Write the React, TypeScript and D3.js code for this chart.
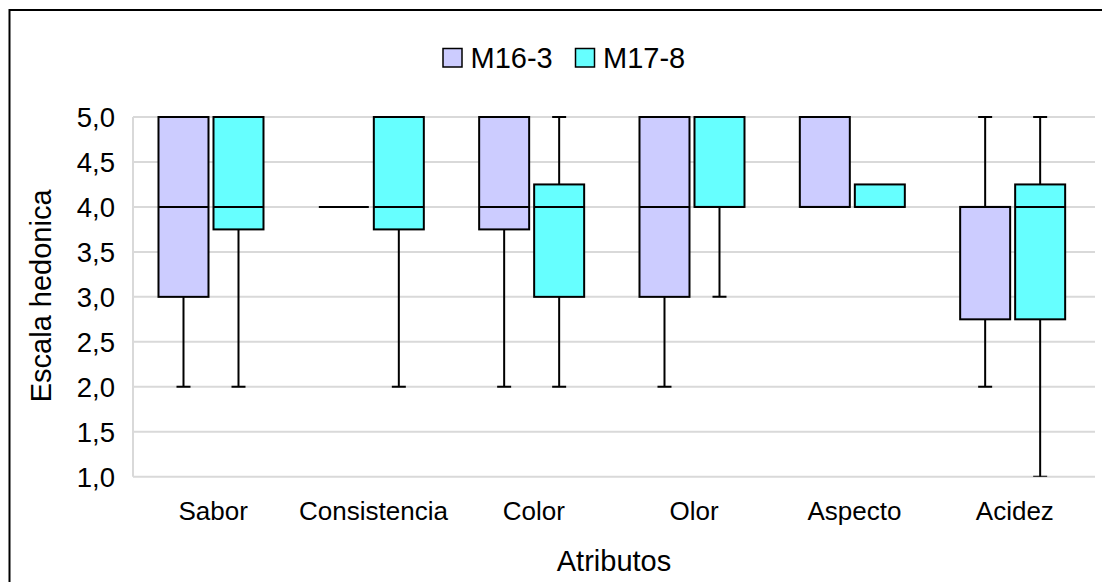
import React from "react";
import * as d3 from "d3";

const categories = ["Sabor", "Consistencia", "Color", "Olor", "Aspecto", "Acidez"];
const seriesNames = ["M16-3", "M17-8"];
const seriesColors = ["#ccccff", "#66ffff"];

// [min, q1, median, q3, max] per category
const m16_3 = [
  [2, 3, 4, 5, 5],
  [4, 4, 4, 4, 4],
  [2, 3.75, 4, 5, 5],
  [2, 3, 4, 5, 5],
  [4, 4, 4, 5, 5],
  [2, 2.75, 4, 4, 5],
];
const m17_8 = [
  [2, 3.75, 4, 5, 5],
  [2, 3.75, 4, 5, 5],
  [2, 3, 4, 4.25, 5],
  [3, 4, 4, 5, 5],
  [4, 4, 4, 4.25, 4.25],
  [1, 2.75, 4, 4.25, 5],
];
const yTicks = [1, 1.5, 2, 2.5, 3, 3.5, 4, 4.5, 5];

const W = 1102;
const H = 582;
const plot = { left: 133, right: 1095, top: 117, bottom: 476.7 };
const FONT = "'Liberation Sans', Arial, sans-serif";

export default function App() {
  const x = d3.scaleBand<string>().domain(categories).range([plot.left, plot.right]).padding(0);
  const y = d3.scaleLinear().domain([1, 5]).range([plot.bottom, plot.top]);
  const bw = x.bandwidth();
  const boxW = 50;
  const offsets = [bw * 0.159, bw * 0.159 + boxW + 5];
  const capW = 14;
  const fmt = (v: number) => v.toFixed(1).replace(".", ",");
  const allSeries = [m16_3, m17_8];

  return (
    <svg width={W} height={H} style={{ position: "absolute", left: 0, top: 0, background: "#fff" }} fontFamily={FONT}>
      <defs>
        <clipPath id="plotClip">
          <rect x={plot.left} y={plot.top - 2} width={plot.right - plot.left} height={plot.bottom - plot.top + 2} />
        </clipPath>
      </defs>
      <rect x={0} y={0} width={W} height={H} fill="#fff" />
      <rect x={9.5} y={10} width={W + 20} height={H + 20} fill="none" stroke="#000" strokeWidth={2} />

      {/* gridlines */}
      {yTicks.map((t) => (
        <line key={"g" + t} x1={plot.left} x2={plot.right} y1={y(t)} y2={y(t)} stroke="#d9d9d9" strokeWidth={2} />
      ))}
      <line x1={plot.left} x2={plot.left} y1={plot.top} y2={plot.bottom} stroke="#d9d9d9" strokeWidth={2} />

      {/* y tick labels */}
      {yTicks.map((t) => (
        <text key={"t" + t} x={115} y={y(t)} dy="0.36em" textAnchor="end" fontSize={27.5} fill="#000">
          {fmt(t)}
        </text>
      ))}

      {/* boxes */}
      <g clipPath="url(#plotClip)">
        {allSeries.map((series, si) =>
          series.map((d, ci) => {
            const x0 = (x(categories[ci]) as number) + offsets[si];
            const cx = x0 + boxW / 2;
            const [mn, q1, md, q3, mx] = d;
            return (
              <g key={si + "-" + ci}>
                {mx > q3 && (
                  <>
                    <line x1={cx} x2={cx} y1={y(q3)} y2={y(mx)} stroke="#000" strokeWidth={2} />
                    <line x1={cx - capW / 2} x2={cx + capW / 2} y1={y(mx)} y2={y(mx)} stroke="#000" strokeWidth={2} />
                  </>
                )}
                {mn < q1 && (
                  <>
                    <line x1={cx} x2={cx} y1={y(q1)} y2={y(mn)} stroke="#000" strokeWidth={2} />
                    <line x1={cx - capW / 2} x2={cx + capW / 2} y1={y(mn)} y2={y(mn)} stroke="#000" strokeWidth={2} />
                  </>
                )}
                <rect
                  x={x0}
                  y={y(q3)}
                  width={boxW}
                  height={y(q1) - y(q3)}
                  fill={seriesColors[si]}
                  stroke="#000"
                  strokeWidth={2}
                />
                <line x1={x0} x2={x0 + boxW} y1={y(md)} y2={y(md)} stroke="#000" strokeWidth={2} />
              </g>
            );
          })
        )}
      </g>

      {/* x labels */}
      {categories.map((c) => (
        <text key={c} x={(x(c) as number) + bw / 2} y={520} textAnchor="middle" fontSize={26} fill="#000">
          {c}
        </text>
      ))}

      <text x={(plot.left + plot.right) / 2} y={571} textAnchor="middle" fontSize={29} fill="#000">
        Atributos
      </text>
      <text
        transform={`translate(51, ${(plot.top + plot.bottom) / 2 - 1}) rotate(-90)`}
        textAnchor="middle"
        fontSize={29}
        fill="#000"
      >
        Escala hedonica
      </text>

      {/* legend */}
      {seriesNames.map((n, i) => {
        const lx = i === 0 ? 443 : 575.5;
        return (
          <g key={n}>
            <rect x={lx} y={48.5} width={19} height={18.5} fill={seriesColors[i]} stroke="#000" strokeWidth={1.5} />
            <text x={lx + 27.5} y={67.5} fontSize={29} fill="#000">
              {n}
            </text>
          </g>
        );
      })}
    </svg>
  );
}
